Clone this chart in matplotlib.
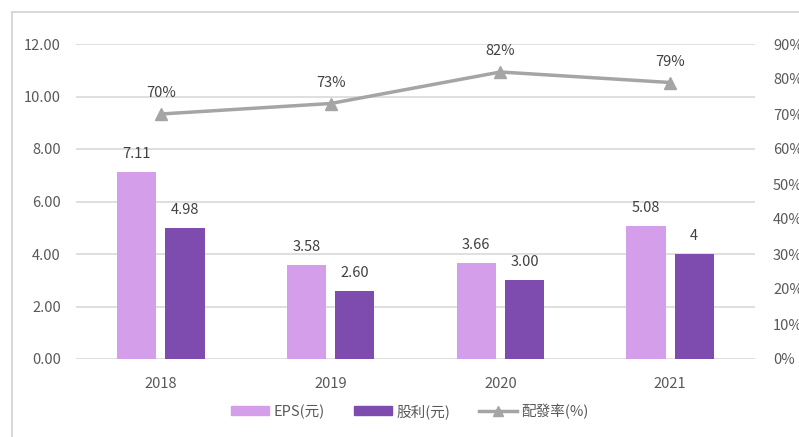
import matplotlib
matplotlib.use('Agg')
import matplotlib.pyplot as plt
import numpy as np
from matplotlib.patches import Rectangle
from matplotlib.lines import Line2D
from matplotlib.ticker import FuncFormatter

plt.rcParams['font.family'] = ['Noto Sans CJK TC', 'DejaVu Sans']

# ── Data ──────────────────────────────────────────────────────────────────────
years = ["2018", "2019", "2020", "2021"]
eps = [7.11, 3.58, 3.66, 5.08]
dividend = [4.98, 2.60, 3.00, 4.00]
dividend_labels = ["4.98", "2.60", "3.00", "4"]
payout = [70, 73, 82, 79]

C_EPS = "#D59EEB"
C_DIV = "#7E4BAE"
C_LINE = "#A5A5A5"
C_TEXT = "#404040"
C_TICK = "#595959"

# ── Plot ──────────────────────────────────────────────────────────────────────
fig = plt.figure(figsize=(7.99, 4.37), dpi=100)
W, H = 799, 437
ax = fig.add_axes([76 / W, 1 - 359 / H, (755 - 76) / W, 315 / H])
ax2 = ax.twinx()

# outer frame (top/left visible, extends past the image)
fig.patches.append(Rectangle((12 / W, -0.1), 1.2, 1 - 12 / H + 0.1,
                             transform=fig.transFigure, fill=False,
                             edgecolor="#D9D9D9", linewidth=1.5, zorder=0))

x = np.arange(len(years))
bw = 0.23
off = 0.142
b1 = ax.bar(x - off, eps, bw, color=C_EPS, zorder=3)
b2 = ax.bar(x + off, dividend, bw, color=C_DIV, zorder=3)
ax.bar_label(b1, labels=[f"{v:.2f}" for v in eps], padding=8,
             fontsize=10.5, color=C_TEXT)
ax.bar_label(b2, labels=dividend_labels, padding=8,
             fontsize=10.5, color=C_TEXT)

ax.set_xlim(-0.5, 3.5)
ax.set_ylim(0, 12)
ax.set_yticks(np.arange(0, 13, 2))
ax.yaxis.set_major_formatter(FuncFormatter(lambda v, p: f"{v:.2f}"))
ax.set_xticks(x)
ax.set_xticklabels(years)
ax.grid(axis='y', color="#D9D9D9", linewidth=1.2, zorder=0)
ax.set_axisbelow(True)

ax2.plot(x, payout, color=C_LINE, linewidth=2.5, marker='^',
         markersize=9, zorder=4)
for xi, v in zip(x, payout):
    ax2.annotate(f"{v}%", (xi, v), xytext=(0, 10), textcoords='offset points',
                 ha='center', va='bottom', fontsize=10.5, color=C_TEXT)
ax2.set_ylim(0, 90)
ax2.set_yticks(np.arange(0, 91, 10))
ax2.yaxis.set_major_formatter(FuncFormatter(lambda v, p: f"{v:.0f}%"))

for a in (ax, ax2):
    for s in a.spines.values():
        s.set_visible(False)
    a.tick_params(length=0, labelsize=10.5, labelcolor=C_TICK)
ax.tick_params(axis='y', pad=11)
ax.tick_params(axis='x', pad=13)
ax2.tick_params(axis='y', pad=13)

handles = [
    Rectangle((0, 0), 1, 1, color=C_EPS),
    Rectangle((0, 0), 1, 1, color=C_DIV),
    Line2D([], [], color=C_LINE, linewidth=2.5, marker='^', markersize=7),
]
fig.legend(handles, ["EPS(元)", "股利(元)", "配發率(%)"], loc='center',
           bbox_to_anchor=(410 / W, 1 - 411 / H), ncol=3, frameon=False,
           fontsize=10.5, labelcolor=C_TICK, handlelength=2.6,
           handleheight=0.6, columnspacing=2.0, handletextpad=0.3)

fig.savefig("out.png", dpi=100)
